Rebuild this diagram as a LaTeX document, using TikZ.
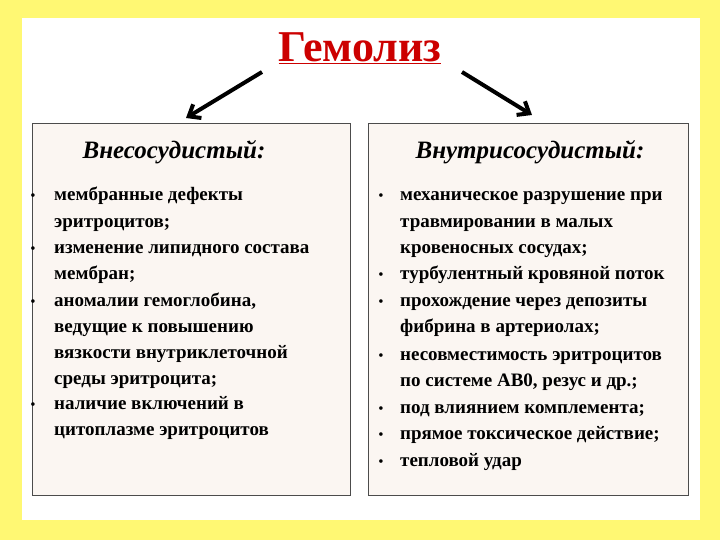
\documentclass[tikz,border=0pt]{standalone}
\usepackage{fontspec}
\setmainfont{Liberation Serif}
\usetikzlibrary{arrows.meta}
\begin{document}
\begin{tikzpicture}[x=1pt,y=-1pt,
  item/.style={anchor=base west,inner sep=0pt,font=\bfseries\fontsize{19}{22}\selectfont},
  bul/.style={anchor=base,inner sep=0pt,font=\fontsize{15}{18}\selectfont},
  hdr/.style={font=\bfseries\itshape\fontsize{25}{28}\selectfont},
  panel/.style={fill=white!93!brown,draw=black!70,line width=1.2pt},
  arr/.style={line width=4pt,-{Straight Barb[length=10pt,width=16pt]}}]
\useasboundingbox (0,0) rectangle (720,540);
\fill[yellow!55] (0,0) rectangle (720,540);
\fill[white] (22,18) rectangle (700,520);
\node (t) [font=\bfseries\fontsize{44}{48}\selectfont,text=red!80!black] at (360,48) {\underline{Гемолиз}};
\coordinate (la) at (186,118);
\coordinate (ra) at (532,115);
\draw[arr] (262,72) -- (la);
\draw[arr] (462,72) -- (ra);
\node (L) [panel,minimum width=318,minimum height=372,anchor=north west] at (32,123) {};
\node (R) [panel,minimum width=320,minimum height=372,anchor=north west] at (368,123) {};
\node (lh) [hdr] at (174,152) {Внесосудистый:};
\node (rh) [hdr] at (530,152) {Внутрисосудистый:};
\foreach \y in {201,253,306,409} \node[bul] at (33,\y) {•};
\foreach \y/\t in {201/мембранные дефекты,227/эритроцитов;,
  253/изменение липидного состава,279/мембран;,
  306/{аномалии гемоглобина,},332/ведущие к повышению,358/вязкости внутриклеточной,384/среды эритроцита;,
  409/наличие включений в,435/цитоплазме эритроцитов}
  \node[item] at (54,\y) {\t};
\foreach \y in {201,279,306,360,413,439,466} \node[bul] at (381,\y) {•};
\foreach \y/\t in {201/механическое разрушение при,227/травмировании в малых,253/кровеносных сосудах;,
  279/турбулентный кровяной поток,
  306/прохождение через депозиты,332/фибрина в артериолах;,
  360/несовместимость эритроцитов,386/{по системе АВ0, резус и др.;},
  413/под влиянием комплемента;,
  439/прямое токсическое действие;,
  466/тепловой удар}
  \node[item] at (400,\y) {\t};
\end{tikzpicture}
\end{document}
